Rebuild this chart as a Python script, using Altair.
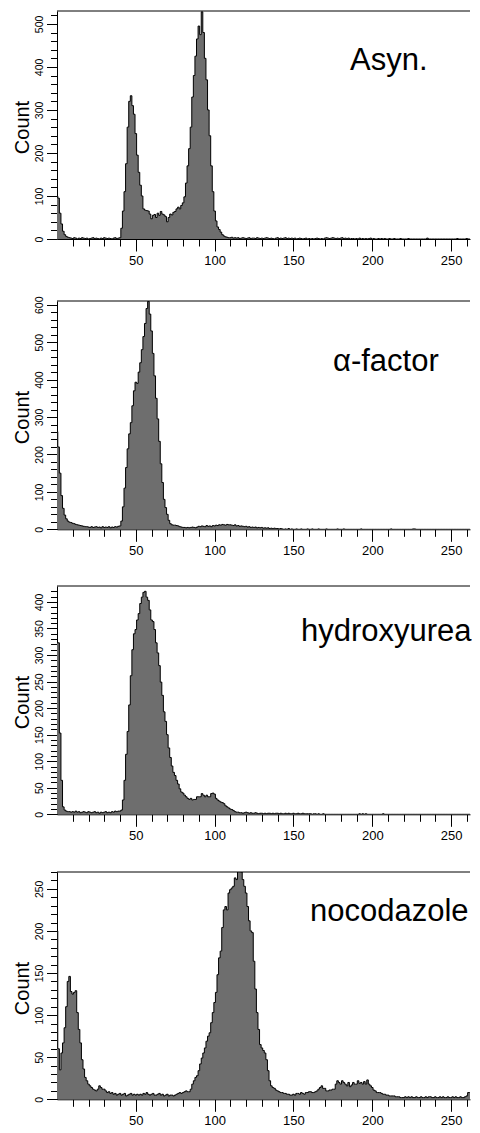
import altair as alt
import pandas as pd

# Flow-cytometry DNA-content histograms (channel 0..262)
CHANNELS = list(range(263))
X_TICKS = list(range(10, 261, 10))
PANEL_NAMES = ["Asyn.", "α-factor", "hydroxyurea", "nocodazole"]

asyn_counts = [
    100, 95, 60, 35, 18, 10, 6, 4, 3, 2,
    1, 3, 2, 0, 2, 1, 3, 2, 1, 2,
    0, 1, 2, 3, 1, 2, 1, 0, 2, 1,
    3, 2, 1, 2, 1, 0, 2, 3, 1, 2,
    3, 25, 65, 110, 175, 260, 320, 333, 310, 290,
    245, 195, 155, 125, 100, 70, 67, 66, 65, 58,
    47, 55, 57, 50, 60, 55, 64, 58, 56, 52,
    40, 50, 58, 56, 62, 64, 70, 74, 70, 78,
    84, 98, 130, 170, 210, 260, 330, 380, 425, 465,
    495, 475, 528, 480, 420, 370, 300, 240, 170, 110,
    65, 42, 28, 22, 16, 10, 7, 5, 4, 3,
    3, 4, 2, 3, 2, 3, 1, 2, 3, 2,
    1, 2, 3, 1, 2, 2, 1, 3, 2, 1,
    2, 1, 2, 3, 2, 1, 2, 1, 0, 2,
    3, 1, 2, 1, 2, 3, 1, 2, 1, 2,
    1, 2, 0, 1, 2, 1, 0, 1, 2, 0,
    1, 0, 1, 0, 1, 2, 1, 0, 1, 0,
    2, 3, 2, 1, 2, 3, 2, 1, 2, 1,
    2, 3, 1, 2, 1, 2, 0, 1, 1, 0,
    1, 0, 2, 0, 1, 0, 1, 0, 1, 2,
    0, 1, 0, 0, 1, 0, 1, 0, 1, 0,
    0, 1, 0, 0, 1, 0, 0, 0, 1, 0,
    0, 0, 0, 1, 0, 0, 0, 0, 0, 0,
    0, 0, 0, 0, 0, 2, 0, 0, 0, 0,
    0, 0, 0, 0, 0, 0, 0, 0, 0, 0,
    0, 0, 0, 0, 1, 0, 0, 0, 0, 0,
    1, 0, 0,
]

alpha_counts = [
    261, 220, 150, 90, 56, 38, 28, 22, 19, 18,
    16, 15, 13, 12, 11, 10, 9, 8, 7, 7,
    6, 5, 7, 5, 6, 7, 5, 6, 4, 7,
    5, 6, 5, 7, 4, 6, 5, 7, 6, 8,
    9, 22, 60, 110, 165, 215, 255, 285, 330, 370,
    393, 390, 420, 445, 480, 515, 550, 590, 609, 575,
    530, 470, 410, 350, 295, 235, 175, 125, 80, 58,
    40, 24, 15, 12, 11, 11, 10, 9, 7, 6,
    5, 5, 4, 5, 4, 5, 6, 5, 4, 6,
    8, 7, 9, 8, 7, 10, 8, 9, 7, 10,
    9, 11, 10, 12, 11, 13, 12, 11, 13, 12,
    12, 11, 10, 12, 9, 10, 8, 9, 8, 7,
    8, 6, 7, 5, 6, 5, 6, 4, 5, 4,
    5, 3, 4, 3, 4, 2, 3, 2, 3, 2,
    2, 1, 2, 1, 0, 1, 0, 2, 0, 1,
    0, 0, 1, 0, 0, 1, 0, 0, 0, 1,
    0, 0, 1, 0, 0, 0, 1, 0, 0, 0,
    0, 1, 0, 0, 0, 0, 0, 0, 1, 0,
    0, 0, 1, 0, 0, 0, 0, 0, 0, 0,
    0, 0, 0, 1, 0, 0, 0, 0, 0, 0,
    0, 0, 0, 0, 0, 0, 0, 0, 0, 0,
    0, 0, 1, 0, 0, 0, 0, 0, 0, 0,
    0, 0, 0, 0, 0, 0, 1, 1, 0, 0,
    0, 0, 0, 0, 0, 0, 0, 0, 0, 0,
    0, 0, 0, 0, 0, 0, 0, 0, 0, 0,
    0, 0, 0, 0, 0, 0, 0, 0, 0, 0,
    0, 0, 0,
]

hu_counts = [
    323, 323, 153, 64, 14, 8, 6, 5, 5, 4,
    5, 4, 6, 4, 5, 3, 4, 5, 4, 3,
    5, 4, 3, 4, 5, 3, 4, 2, 4, 3,
    4, 5, 3, 4, 3, 5, 4, 6, 5, 6,
    6, 8, 27, 64, 113, 156, 206, 261, 310, 340,
    348, 366, 378, 397, 409, 418, 420, 409, 403, 385,
    366, 363, 348, 323, 304, 280, 249, 224, 193, 175,
    150, 125, 107, 91, 79, 73, 64, 57, 48, 42,
    40, 36, 33, 30, 28, 30, 27, 28, 28, 33,
    33, 33, 39, 36, 33, 36, 33, 33, 39, 40,
    38, 30, 27, 25, 23, 22, 20, 16, 14, 12,
    10, 9, 7, 5, 4, 4, 3, 3, 2, 3,
    4, 3, 2, 3, 2, 2, 3, 2, 1, 2,
    2, 1, 2, 1, 2, 2, 1, 2, 1, 2,
    2, 1, 2, 1, 1, 2, 1, 2, 1, 1,
    2, 1, 1, 2, 1, 1, 2, 1, 1, 1,
    1, 1, 0, 1, 1, 0, 1, 0, 0, 1,
    0, 0, 0, 0, 0, 0, 0, 0, 0, 0,
    0, 0, 0, 0, 0, 0, 0, 0, 0, 0,
    0, 0, 1, 0, 1, 0, 1, 0, 0, 0,
    0, 0, 0, 0, 0, 0, 0, 1, 0, 0,
    0, 0, 0, 0, 0, 0, 0, 0, 0, 0,
    0, 0, 0, 0, 0, 0, 0, 0, 0, 0,
    0, 0, 0, 0, 0, 0, 0, 0, 0, 0,
    0, 0, 0, 0, 0, 0, 0, 0, 0, 0,
    0, 0, 0, 0, 0, 0, 0, 0, 0, 0,
    0, 0, 0,
]

noc_counts = [
    200, 60, 35, 55, 67, 85, 110, 140, 146, 128,
    125, 127, 129, 103, 83, 67, 47, 36, 26, 22,
    18, 16, 14, 12, 11, 10, 12, 16, 14, 12,
    12, 10, 8, 9, 7, 8, 6, 7, 5, 6,
    7, 5, 6, 7, 4, 5, 6, 7, 5, 6,
    5, 6, 5, 6, 5, 7, 6, 8, 6, 5,
    6, 7, 5, 5, 6, 7, 5, 6, 4, 5,
    6, 4, 5, 5, 4, 5, 6, 7, 8, 7,
    8, 9, 10, 9, 9, 12, 18, 22, 26, 28,
    34, 42, 49, 55, 61, 69, 75, 79, 91, 103,
    115, 127, 148, 168, 176, 204, 225, 229, 225, 245,
    249, 251, 253, 263, 261, 271, 273, 270, 261, 253,
    245, 229, 212, 200, 198, 164, 131, 103, 83, 65,
    61, 58, 55, 47, 34, 22, 16, 14, 13, 11,
    10, 9, 8, 8, 7, 7, 6, 6, 5, 5,
    6, 5, 7, 7, 6, 8, 7, 6, 8, 8,
    9, 9, 8, 8, 9, 10, 12, 14, 16, 13,
    13, 10, 10, 11, 11, 12, 12, 18, 22, 20,
    18, 22, 20, 18, 16, 20, 15, 17, 20, 18,
    18, 22, 19, 20, 18, 21, 18, 23, 18, 16,
    14, 11, 10, 8, 8, 8, 7, 6, 6, 5,
    5, 4, 4, 4, 4, 3, 3, 3, 2, 2,
    2, 3, 2, 3, 2, 3, 2, 2, 3, 2,
    2, 3, 2, 2, 3, 2, 3, 3, 2, 2,
    3, 2, 2, 3, 2, 3, 2, 2, 3, 2,
    2, 3, 2, 3, 2, 2, 3, 2, 2, 3,
    4, 8, 8,
]

FILL = "#6e6e6e"
W = 413
FONT = "Liberation Sans"


def panel(counts, name, ymax, tick_step, label_step, height, text_x, text_y, x_extent):
    df = pd.DataFrame({"channel": CHANNELS, "count": counts})
    x_axis = alt.Axis(
        values=X_TICKS,
        labelExpr="datum.value % 50 === 0 ? datum.label : ''",
        tickSize={"condition": {"test": "datum.value % 50 === 0", "value": 12}, "value": 7},
        domainColor="black", tickColor="black", labelColor="black",
        domainWidth=1, tickWidth=1,
        labelFont=FONT, labelFontSize=13, labelPadding=3,
        labelOverlap=False, labelFlush=False, grid=False, title=None,
        minExtent=x_extent, maxExtent=x_extent,
    )
    y_axis = alt.Axis(
        values=list(range(0, ymax + 1, tick_step)),
        labelExpr=f"datum.value % {label_step} === 0 ? datum.label : ''",
        tickSize={"condition": {"test": f"datum.value % {label_step} === 0", "value": 10.5}, "value": 6.5},
        domainColor="black", tickColor="black", labelColor="black",
        domainWidth=1, tickWidth=1,
        labelFont=FONT, labelFontSize=10.5, labelPadding=2,
        labelAngle=270, labelAlign="center", labelBaseline="bottom",
        labelOverlap=False, grid=False,
        title="Count", titleFont=FONT, titleFontSize=20, titleFontWeight="normal",
        titleColor="black", titleAngle=270, titleAlign="center", titleBaseline="middle",
        titleX=-34.7, titleY=116,
        minExtent=49, maxExtent=49,
    )
    area = alt.Chart(df).mark_area(
        interpolate="step", color=FILL, opacity=1, clip=True,
        line={"color": "black", "strokeWidth": 1},
    ).encode(
        x=alt.X("channel:Q", scale=alt.Scale(domain=[0, 262], nice=False, zero=False), axis=x_axis),
        y=alt.Y("count:Q", scale=alt.Scale(domain=[0, ymax + (10 if ymax % 20 == 0 else 0)], nice=False), axis=y_axis),
    )
    top_rule = alt.Chart(pd.DataFrame({"k": [0]})).mark_rule(color="black", strokeWidth=1).encode(
        x=alt.value(0), x2=alt.value(W), y=alt.value(0)
    )
    label = alt.Chart(pd.DataFrame({"t": [name]})).mark_text(
        align="left", baseline="alphabetic", font=FONT, fontSize=31, color="black"
    ).encode(x=alt.value(text_x), y=alt.value(text_y), text="t:N")
    return alt.layer(area, top_rule, label).properties(width=W, height=height)


p1 = panel(asyn_counts, PANEL_NAMES[0], 520, 20, 100, 228, 293, 59, 55.2)
p2 = panel(alpha_counts, PANEL_NAMES[1], 600, 20, 100, 228.3, 276, 69.7, 55.2)
p3 = panel(hu_counts, PANEL_NAMES[2], 420, 10, 50, 228.3, 244, 54.7, 56.6)
p4 = panel(noc_counts, PANEL_NAMES[3], 270, 10, 50, 227.3, 253, 49, 30)

chart = alt.vconcat(p1, p2, p3, p4, spacing=0).properties(
    padding={"left": 0, "top": 2, "right": 0, "bottom": 0}
).configure_view(stroke=None)

chart.save("out.html", embed_options={"renderer": "svg", "actions": False})
